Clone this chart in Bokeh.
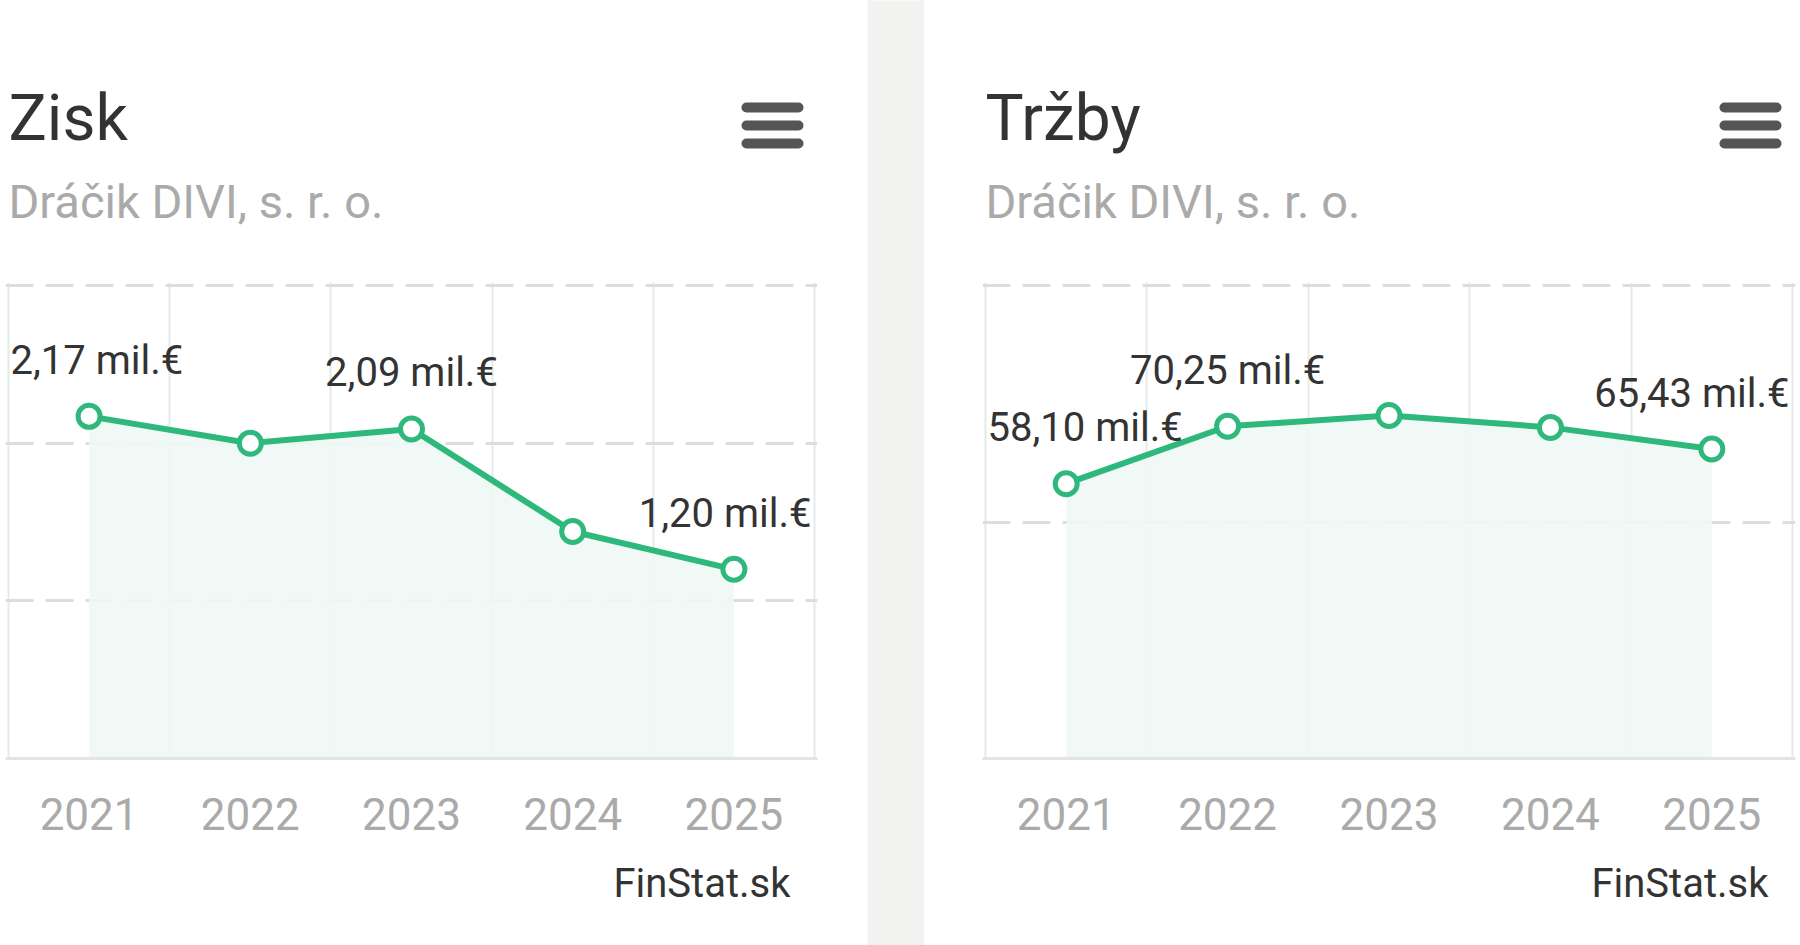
from bokeh.plotting import figure
from bokeh.layouts import row, column
from bokeh.models import Range1d, FixedTicker, ColumnDataSource
from bokeh.core.properties import value
from bokeh.embed import file_html
from bokeh.resources import INLINE

# ---------------- data ----------------
years = ["2021", "2022", "2023", "2024", "2025"]
zisk = [2.17, 2.00, 2.09, 1.44, 1.20]
trzby = [58.10, 70.25, 72.5, 70.0, 65.43]
zisk_labelled = [0, 2, 4]
trzby_labelled = [0, 1, 4]
zisk_max = 3
zisk_grid = [1, 2, 3]
trzby_max = 100
trzby_grid = [50, 100]
company = "Dráčik DIVI, s. r. o."
source_txt = "FinStat.sk"

GREEN = "#2eb87c"
FILL = "#eef8f4"
FONT = "Roboto"
H = 945
HEADER_H = 282      # header figure height (frame top of chart = 282 incl. pad)
FOOTER_TOP = 850    # where footer figure starts
PLOT_TOP = 285
PLOT_BOTTOM = 758
PAD = 3             # px of padding so edge grid lines are not clipped


def fmt(v):
    return ("%.2f" % v).replace(".", ",") + " mil.€"


def deco_fig(width, height, fl, fr):
    # figure whose data units are canvas pixels (frame aligned with chart frame)
    p = figure(width=width, height=height, output_backend="svg", toolbar_location=None,
               x_range=Range1d(fl, fr), y_range=Range1d(height, 0),
               min_border_left=fl, min_border_right=width - fr,
               min_border_top=0, min_border_bottom=0,
               x_axis_location=None, y_axis_location=None)
    p.outline_line_color = None
    p.background_fill_color = "white"
    p.border_fill_color = "white"
    p.grid.visible = False
    return p


def panel(title, vals, labelled, ymax, ygrid, width, plot_left, plot_right):
    n = len(years)
    xs = list(range(n))
    fl, fr = plot_left - PAD, plot_right + PAD

    # ---------- header ----------
    hdr = deco_fig(width, HEADER_H, fl, fr)
    hdr.text(x=[plot_left], y=[140 - 22], text=[title], text_font=value(FONT),
             text_font_size="64px", text_color="#333333", text_baseline="alphabetic")
    hdr.text(x=[plot_left], y=[217 - 16], text=[company], text_font=value(FONT),
             text_font_size="47px", text_color="#aaaaaa", text_baseline="alphabetic")
    bars_y = [107, 125, 143]
    hdr.segment(x0=[plot_right - 68] * 3, x1=[plot_right - 16] * 3, y0=bars_y, y1=bars_y,
                line_color="#555555", line_width=10, line_cap="round")

    # ---------- chart ----------
    unit_x = (plot_right - plot_left) / n
    unit_y = (PLOT_BOTTOM - PLOT_TOP) / ymax
    p = figure(width=width, height=FOOTER_TOP - HEADER_H, output_backend="svg", toolbar_location=None,
               x_range=Range1d(-0.5 - PAD / unit_x, n - 0.5 + PAD / unit_x),
               y_range=Range1d(0, ymax + PAD / unit_y),
               min_border_left=fl, min_border_right=width - fr,
               min_border_top=0, min_border_bottom=FOOTER_TOP - PLOT_BOTTOM)
    p.outline_line_color = None
    p.background_fill_color = "white"
    p.border_fill_color = "white"
    p.yaxis.visible = False

    p.xaxis.ticker = FixedTicker(ticks=xs)
    p.xaxis.major_label_overrides = {i: y for i, y in enumerate(years)}
    p.xaxis.axis_line_color = "#e4e4e4"
    p.xaxis.axis_line_width = 3
    p.xaxis.major_tick_line_color = None
    p.xaxis.minor_tick_line_color = None
    p.xaxis.major_label_text_font = FONT
    p.xaxis.major_label_text_font_size = "44px"
    p.xaxis.major_label_text_color = "#aaaaaa"
    p.xaxis.major_label_standoff = 33

    p.xgrid.ticker = FixedTicker(ticks=[i - 0.5 for i in range(n + 1)])
    p.xgrid.grid_line_color = "#e2ebe7"
    p.xgrid.grid_line_width = 2
    p.ygrid.ticker = FixedTicker(ticks=ygrid)
    p.ygrid.grid_line_color = "#dddddd"
    p.ygrid.grid_line_width = 3
    p.ygrid.grid_line_dash = "28 12"

    p.varea(x=xs, y1=[0] * n, y2=vals, fill_color=FILL, fill_alpha=0.9)
    p.line(xs, vals, line_color=GREEN, line_width=6)
    p.scatter(xs, vals, size=22, fill_color="white", line_color=GREEN, line_width=5)

    lx, ly, lt, la, lo = [], [], [], [], []
    for i in labelled:
        if i == 0:
            lx.append(-0.5); la.append("left"); lo.append(2)
        elif i == n - 1:
            lx.append(n - 0.5); la.append("right"); lo.append(-3)
        else:
            lx.append(i); la.append("center"); lo.append(0)
        ly.append(vals[i])
        lt.append(fmt(vals[i]))
    src = ColumnDataSource(dict(x=lx, y=ly, t=lt, a=la, xo=lo))
    p.text(x="x", y="y", text="t", source=src, text_align="a", x_offset="xo",
           y_offset=-56, text_baseline="alphabetic",
           text_font=value(FONT), text_font_size="40px", text_color="#333333")

    # ---------- footer ----------
    fh = H - FOOTER_TOP
    ftr = deco_fig(width, fh, fl, fr)
    ftr.text(x=[plot_right - 24], y=[898 - 15 - FOOTER_TOP], text=[source_txt], text_font=value(FONT),
             text_font_size="40px", text_color="#333333", text_baseline="alphabetic",
             text_align="right")

    return column(hdr, p, ftr, spacing=0)


left = panel("Zisk", zisk, zisk_labelled, zisk_max, zisk_grid, 867, 8, 814)

sep = figure(width=57, height=H, output_backend="svg", toolbar_location=None,
             min_border=0, x_axis_location=None, y_axis_location=None)
sep.outline_line_color = None
sep.background_fill_color = "#f2f2f1"
sep.border_fill_color = "#f2f2f1"
sep.grid.visible = False

right = panel("Tržby", trzby, trzby_labelled, trzby_max, trzby_grid, 876, 985 - 924, 1792 - 924)

layout = row(left, sep, right, spacing=0)
open("out.html", "w").write(file_html(layout, INLINE))
